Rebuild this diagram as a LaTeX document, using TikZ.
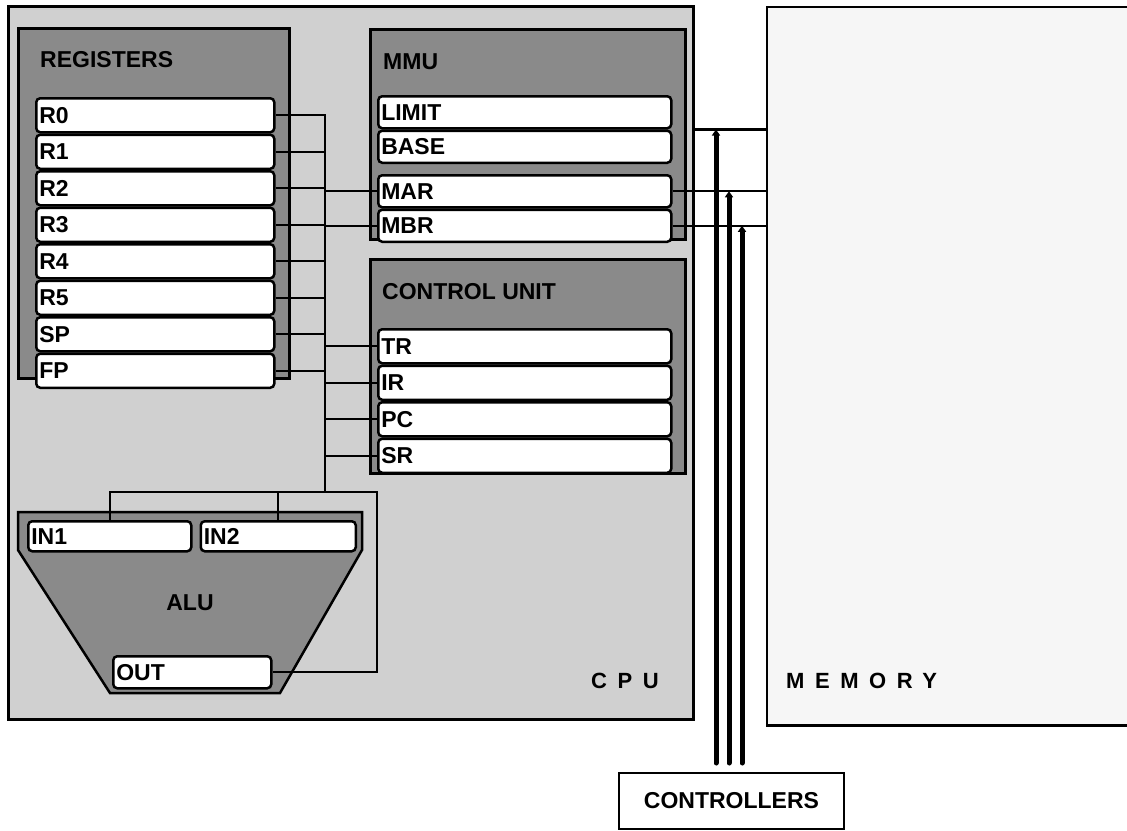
\documentclass[tikz,border=0pt]{standalone}
\usepackage{fontspec}
\setmainfont{Liberation Sans}
\newfontfamily\spacedsf[LetterSpace=48]{Liberation Sans}
\usepackage{tikz}
\usetikzlibrary{positioning,arrows.meta,calc}
\definecolor{stipple}{RGB}{208,208,208}
\definecolor{hatch}{RGB}{138,138,138}
\definecolor{memfill}{RGB}{246,246,246}
\tikzset{
  outer/.style={draw,line width=2.5pt,fill=stipple,anchor=north west,inner sep=0pt},
  unit/.style={draw,line width=2.5pt,fill=hatch,anchor=north west,inner sep=0pt},
  reg/.style={draw,line width=2.5pt,fill=white,rounded corners=4pt,text width=#1,inner xsep=3pt,inner ysep=0pt,
    minimum height=34pt,align=left,font=\fontsize{23}{23}\selectfont\bfseries},
  reg/.default=232pt,
  ttl/.style={anchor=west,inner sep=0pt,font=\fontsize{23}{23}\selectfont\bfseries},
  big/.style={anchor=west,inner sep=0pt,font=\fontsize{22}{22}\selectfont\spacedsf\bfseries},
  wire/.style={line width=2.4pt},
  ctl/.style={line width=5pt,line cap=round,-{Triangle[length=6pt,width=8pt]}},
}
\begin{document}
\begin{tikzpicture}[x=1pt,y=-1pt]
  \useasboundingbox (0,0) rectangle (1127,830);
  % cpu and memory
  \node[outer,minimum width=685pt,minimum height=713pt] (cpu) at (7,5) {};
  \node[outer,fill=memfill,draw=none,minimum width=360pt,minimum height=716pt] (mem) at (767,7) {};
  \draw[line width=2.5pt] (mem.north east) -- (mem.north west) -- (mem.south west) -- (mem.south east);
  \node[big] (cpulbl) at (591,681) {CPU};
  \node[big] (memlbl) at (786,681) {MEMORY};
  % units
  \node[unit,minimum width=271pt,minimum height=350pt] (regs) at (17,27) {};
  \node[unit,minimum width=315pt,minimum height=210pt] (mmu) at (369,28) {};
  \node[unit,minimum width=315pt,minimum height=214pt] (cu) at (369,258) {};
  \draw[unit] (18,512) -- (362,512) -- (362,550) -- (280,693) -- (110,693) -- (18,550) -- cycle;
  \node[ttl] (regsttl) at (40,60) {REGISTERS};
  \node[ttl] (mmuttl) at (383,62) {MMU};
  \node[ttl] (cuttl) at (382,292) {CONTROL UNIT};
  \node[ttl,anchor=center] (alu) at (190,603) {ALU};
  % register file
  \node[reg,anchor=north west] (r0) at (35,97) {R0};
  \node[reg,below=0pt of r0] (r1) {R1};
  \node[reg,below=0pt of r1] (r2) {R2};
  \node[reg,below=0pt of r2] (r3) {R3};
  \node[reg,below=0pt of r3] (r4) {R4};
  \node[reg,below=0pt of r4] (r5) {R5};
  \node[reg,below=0pt of r5] (sp) {SP};
  \node[reg,below=0pt of sp] (fp) {FP};
  % mmu
  \node[reg=287pt,minimum height=32pt,anchor=north west] (limit) at (377,95) {LIMIT};
  \node[reg=287pt,minimum height=32pt,below=0pt of limit] (base) {BASE};
  \node[reg=287pt,minimum height=32pt,below=10pt of base] (mar) {MAR};
  \node[reg=287pt,minimum height=32pt,below=0pt of mar] (mbr) {MBR};
  % control unit
  \node[reg=287pt,anchor=north west] (tr) at (377,328) {TR};
  \node[reg=287pt,below=0pt of tr] (ir) {IR};
  \node[reg=287pt,below=0pt of ir] (pc) {PC};
  \node[reg=287pt,below=0pt of pc] (sr) {SR};
  % alu
  \node[reg=157pt,minimum height=30pt,anchor=north west] (in1) at (27,520) {IN1};
  \node[reg=149pt,minimum height=30pt,right=7pt of in1] (in2) {IN2};
  \node[reg=152pt,minimum height=32pt,anchor=north west] (out) at (112,655) {OUT};
  % internal bus
  \coordinate (busbot) at (325,492);
  \coordinate (aluret) at (377,492);
  \draw[wire] (r0.east) -| (busbot);
  \foreach \r in {r1,r2,r3,r4,r5,sp,fp}
    \draw[wire] (\r.east) -- (\r.east -| busbot);
  \foreach \r in {mar,mbr,tr,ir,pc,sr}
    \draw[wire] (\r.west) -- (\r.west -| busbot);
  \draw[wire] (in1.north) |- (aluret) |- (out.east);
  \draw[wire] (in2.north) -- (in2.north |- aluret);
  % system bus
  \draw[wire] (limit.south -| cpu.east) -- (limit.south -| mem.west);
  \draw[wire] (mar.east) -- (mar.east -| mem.west);
  \draw[wire] (mbr.east) -- (mbr.east -| mem.west);
  \node[draw,line width=2pt,minimum width=225pt,minimum height=56pt,anchor=north west,
    font=\fontsize{23}{23}\selectfont\bfseries] (ctrl) at (618,772) {CONTROLLERS};
  \coordinate (k1) at (716,763);
  \coordinate (k2) at (729,763);
  \coordinate (k3) at (742,763);
  \draw[ctl] (k1) -- (k1 |- limit.south);
  \draw[ctl] (k2) -- (k2 |- mar.east);
  \draw[ctl] (k3) -- (k3 |- mbr.east);
\end{tikzpicture}
\end{document}
